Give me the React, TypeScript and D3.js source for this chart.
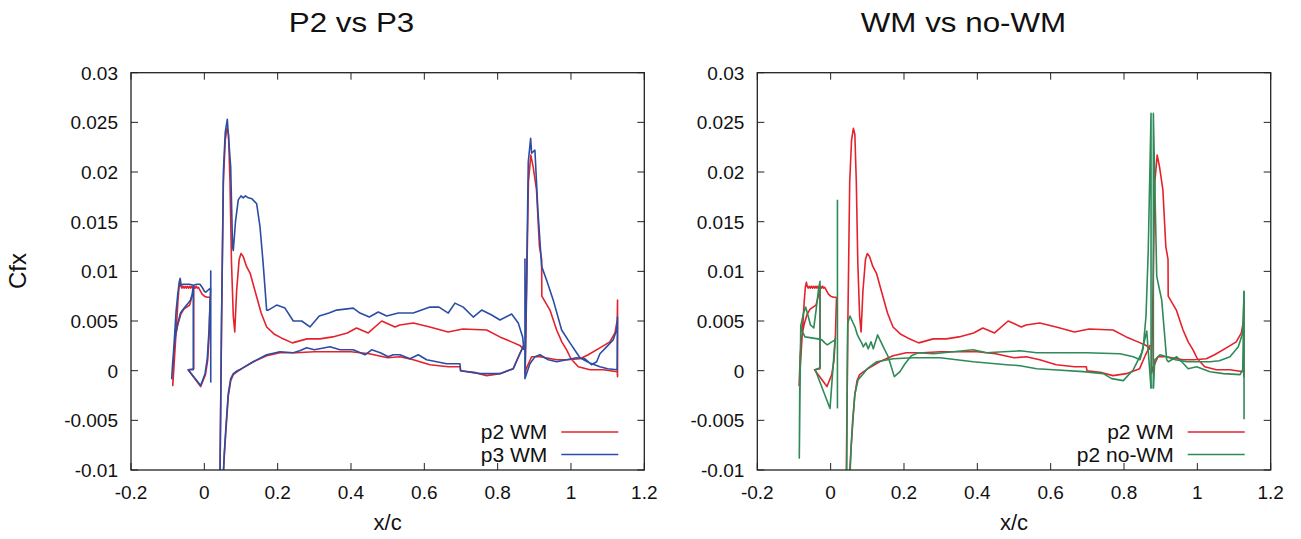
import React from 'react';
import * as d3 from 'd3';

type Pt = [number, number];

// ---------- axis ticks ----------
const xTicks = [-0.2, 0, 0.2, 0.4, 0.6, 0.8, 1, 1.2];
const xTickLabels = ['-0.2', '0', '0.2', '0.4', '0.6', '0.8', '1', '1.2'];
const yTicks = [-0.01, -0.005, 0, 0.005, 0.01, 0.015, 0.02, 0.025, 0.03];
const yTickLabels = ['-0.01', '-0.005', '0', '0.005', '0.01', '0.015', '0.02', '0.025', '0.03'];

// ---------- p2 WM (red) ----------
const p2SlatWM: Pt[] = [
  [0.016, 0.0074], [0.008, 0.0074], [0.0, 0.0075], [-0.006, 0.0077], [-0.012, 0.0081], [-0.016, 0.0084],
  [-0.019, 0.0083], [-0.022, 0.0085], [-0.025, 0.0083], [-0.028, 0.0085], [-0.031, 0.0083], [-0.034, 0.0085],
  [-0.037, 0.0083], [-0.040, 0.0085], [-0.043, 0.0083], [-0.046, 0.0085], [-0.049, 0.0083], [-0.052, 0.0085],
  [-0.055, 0.0083], [-0.058, 0.0085], [-0.061, 0.0083], [-0.064, 0.0085], [-0.066, 0.0089], [-0.069, 0.0084],
  [-0.072, 0.007], [-0.076, 0.0045], [-0.081, 0.0015], [-0.086, -0.0015], [-0.083, 0.0015], [-0.078, 0.0036],
  [-0.072, 0.0047], [-0.064, 0.0057], [-0.056, 0.0062], [-0.048, 0.0064], [-0.04, 0.0066], [-0.035, 0.0073],
  [-0.031, 0.0079], [-0.029, 0.0085], [-0.029, 0.0002], [-0.044, 0.0001], [-0.01, -0.0016], [0.003, -0.0004],
  [0.009, 0.001], [0.013, 0.0035], [0.016, 0.0074],
];
const p2MainUpperWM: Pt[] = [
  [0.0427, -0.0105], [0.047, 0.005], [0.052, 0.019], [0.057, 0.0232], [0.062, 0.0244], [0.066, 0.0238],
  [0.070, 0.019], [0.074, 0.011], [0.079, 0.0055], [0.083, 0.0039], [0.088, 0.008], [0.095, 0.0112],
  [0.1, 0.0118], [0.106, 0.0115], [0.115, 0.0105], [0.125, 0.0098], [0.14, 0.0078], [0.155, 0.0058],
  [0.17, 0.0044], [0.19, 0.0037], [0.21, 0.0033], [0.24, 0.0028], [0.28, 0.0032], [0.315, 0.0032],
  [0.35, 0.0034], [0.39, 0.0038], [0.415, 0.0043], [0.447, 0.0038], [0.484, 0.005], [0.52, 0.0044],
  [0.533, 0.0046], [0.57, 0.0048], [0.615, 0.0044], [0.665, 0.0039], [0.705, 0.0042], [0.77, 0.0041],
  [0.806, 0.0034], [0.838, 0.0029], [0.862, 0.0025], [0.872, 0.0021],
];
const p2MainLowerWM: Pt[] = [
  [0.0517, -0.0105], [0.055, -0.0082], [0.059, -0.006], [0.0653, -0.0026], [0.072, -0.001], [0.079, -0.0004],
  [0.09, -0.0001], [0.1019, 0.0002], [0.1335, 0.0009], [0.17, 0.0015], [0.2063, 0.0018], [0.25, 0.0018],
  [0.3, 0.0019], [0.35, 0.0019], [0.4, 0.0019], [0.45, 0.0017], [0.5, 0.0013], [0.5336, 0.0014],
  [0.57, 0.0011], [0.6154, 0.0006], [0.6653, 0.0004], [0.6972, 0.0004], [0.699, 0.0], [0.74, -0.0002],
  [0.77, -0.0005], [0.8063, -0.0003], [0.8426, 0.0002], [0.86, 0.0017], [0.872, 0.0026],
];
const p2FlapWM: Pt[] = [
  [0.875, -0.0003], [0.879, 0.008], [0.884, 0.019], [0.8905, 0.0217], [0.897, 0.0205], [0.906, 0.0182],
  [0.914, 0.0125], [0.92, 0.0112], [0.9205, 0.0075], [0.9427, 0.0061], [0.9609, 0.0041], [0.975, 0.0029],
  [0.9882, 0.0021], [1.0, 0.0012], [1.02, 0.0004], [1.0518, 0.0001], [1.088, 0.0001], [1.1262, -0.0001],
  [1.127, -0.0006], [1.127, 0.0071], [1.1262, 0.0051], [1.12, 0.0038], [1.106, 0.0029], [1.079, 0.0023],
  [1.047, 0.0016], [1.0245, 0.0012], [0.99, 0.0011], [0.961, 0.0011], [0.9154, 0.0014], [0.8926, 0.0014],
  [0.878, 0.0002], [0.875, -0.0003],
];

// ---------- p3 WM (blue) ----------
const p3SlatWM: Pt[] = [
  [0.017, 0.0083], [0.01, 0.0081], [0.004, 0.0079], [0.0, 0.008], [-0.006, 0.0084], [-0.012, 0.0087],
  [-0.02, 0.0087], [-0.03, 0.0086], [-0.04, 0.0087], [-0.05, 0.0087], [-0.058, 0.0087], [-0.063, 0.0086],
  [-0.066, 0.0093], [-0.069, 0.0088], [-0.073, 0.0075], [-0.077, 0.006], [-0.082, 0.003], [-0.089, -0.0008],
  [-0.086, 0.001], [-0.081, 0.003], [-0.074, 0.0045], [-0.065, 0.0058], [-0.055, 0.0063], [-0.046, 0.0067],
  [-0.038, 0.0071], [-0.033, 0.0077], [-0.03, 0.0086], [-0.03, 0.0001], [-0.044, 0.0001], [-0.01, -0.0015],
  [0.002, -0.0003], [0.008, 0.0012], [0.013, 0.0042], [0.017, 0.0083],
];
const p3SlatTE: Pt[] = [[0.0175, 0.0101], [0.0175, -0.0012]];
const p3MainUpperWM: Pt[] = [
  [0.0427, -0.0105], [0.047, 0.005], [0.052, 0.02], [0.057, 0.024], [0.0627, 0.0253], [0.066, 0.0235],
  [0.0719, 0.0205], [0.077, 0.0125], [0.079, 0.0121], [0.085, 0.015], [0.0926, 0.0172], [0.1, 0.0176],
  [0.106, 0.0174], [0.112, 0.0176], [0.12, 0.0174], [0.13, 0.0173], [0.1428, 0.0168], [0.1518, 0.0145],
  [0.16, 0.011], [0.17, 0.0061], [0.1744, 0.0061], [0.1973, 0.0066], [0.22, 0.0063], [0.2426, 0.005],
  [0.2655, 0.005], [0.2881, 0.0044], [0.3135, 0.0055], [0.34, 0.0058], [0.361, 0.0061], [0.4062, 0.0063],
  [0.4245, 0.0058], [0.4499, 0.0054], [0.4744, 0.0059], [0.4973, 0.0055], [0.529, 0.0058], [0.5698, 0.0058],
  [0.6154, 0.0064], [0.64, 0.0064], [0.6653, 0.0058], [0.6836, 0.0068], [0.7062, 0.0064], [0.7335, 0.0054],
  [0.7564, 0.0061], [0.7837, 0.0056], [0.8063, 0.0051], [0.8382, 0.0057], [0.8562, 0.0048], [0.8682, 0.0034],
  [0.8717, 0.0021],
];
const p3MainLowerWM: Pt[] = [
  [0.0517, -0.0105], [0.055, -0.008], [0.059, -0.0056], [0.0653, -0.0023], [0.072, -0.0008], [0.079, -0.0003],
  [0.09, 0.0], [0.1019, 0.0002], [0.1335, 0.0009], [0.17, 0.0016], [0.2063, 0.0019], [0.2426, 0.0018],
  [0.26, 0.002], [0.279, 0.0023], [0.3, 0.0021], [0.3427, 0.0024], [0.37, 0.0021], [0.4062, 0.0021],
  [0.438, 0.0016], [0.4564, 0.0021], [0.48, 0.0018], [0.5016, 0.0014], [0.515, 0.0016], [0.5336, 0.0016],
  [0.5609, 0.0012], [0.5836, 0.0016], [0.6063, 0.0011], [0.661, 0.0007], [0.6972, 0.0007], [0.699, 0.0],
  [0.7517, -0.0003], [0.8063, -0.0003], [0.8426, 0.0002], [0.8608, 0.0017], [0.8717, 0.0026],
];
const p3FlapWM: Pt[] = [
  [0.8745, 0.0113], [0.8745, -0.0008], [0.879, 0.009], [0.8835, 0.021], [0.89, 0.0234], [0.8926, 0.0219],
  [0.9017, 0.0222], [0.91, 0.016], [0.92, 0.0105], [0.9336, 0.0091], [0.9517, 0.0071], [0.9745, 0.0041],
  [0.9972, 0.0028], [1.0245, 0.0013], [1.05, 0.0008], [1.079, 0.0004], [1.1, 0.0002], [1.126, 0.0001],
  [1.127, 0.0054], [1.1245, 0.0041], [1.115, 0.0031], [1.097, 0.0024], [1.079, 0.0017], [1.07, 0.0009],
  [1.056, 0.0006], [1.038, 0.0012], [1.015, 0.0013], [0.988, 0.0011], [0.961, 0.0009], [0.938, 0.0011],
  [0.9154, 0.0016], [0.9017, 0.0014], [0.888, 0.0007], [0.8745, -0.0008],
];

// ---------- p2 no-WM (green) ----------
const p2SlatNoWM: Pt[] = [
  [0.014, 0.0033], [0.0119, 0.0031], [0.003, 0.0029], [-0.009, 0.0026], [-0.016, 0.0028], [-0.024, 0.0031],
  [-0.035, 0.0032], [-0.052, 0.0033], [-0.07, 0.0034], [-0.078, 0.004], [-0.0815, 0.0046], [-0.0855, -0.0088],
  [-0.084, 0.0], [-0.0808, 0.0046], [-0.074, 0.0058], [-0.068, 0.0064], [-0.062, 0.0056], [-0.055, 0.0046],
  [-0.046, 0.0043], [-0.04, 0.006], [-0.033, 0.0082], [-0.029, 0.009], [-0.029, 0.0003], [-0.042, 0.0001],
  [-0.0017, -0.0038], [0.012, 0.0031], [0.014, 0.0033],
];
const p2SlatTENoWM: Pt[] = [[0.0185, 0.0172], [0.0185, -0.0038]];
const p2MainUpperNoWM: Pt[] = [
  [0.0438, -0.0105], [0.0455, 0.0], [0.0465, 0.0048], [0.0528, 0.0055], [0.06, 0.0049], [0.0664, 0.0044],
  [0.073, 0.0036], [0.08, 0.0031], [0.086, 0.0027], [0.089, 0.0024], [0.096, 0.0028], [0.1027, 0.0022],
  [0.11, 0.0029], [0.1163, 0.0022], [0.128, 0.0036], [0.1436, 0.0024], [0.157, 0.0014], [0.1736, -0.0006],
  [0.1891, -0.0001], [0.2028, 0.0007], [0.22, 0.0015], [0.239, 0.0018], [0.28, 0.0017], [0.3345, 0.0019],
  [0.389, 0.0021], [0.4256, 0.0018], [0.471, 0.0019], [0.5164, 0.002], [0.562, 0.0018], [0.62, 0.0018],
  [0.698, 0.0018], [0.789, 0.0017], [0.8254, 0.0014], [0.8436, 0.0011], [0.852, 0.0022], [0.86, 0.0055],
  [0.866, 0.012], [0.8737, 0.0259], [0.8737, -0.0018],
];
const p2MainLowerNoWM: Pt[] = [
  [0.0528, -0.0105], [0.056, -0.0075], [0.06, -0.005], [0.0664, -0.0023], [0.075, -0.0009], [0.089, -0.0003],
  [0.1, 0.0002], [0.1256, 0.0009], [0.171, 0.0012], [0.2254, 0.0013], [0.298, 0.0013], [0.389, 0.0009],
  [0.48, 0.0006], [0.5164, 0.0005], [0.562, 0.0002], [0.6072, 0.0001], [0.689, -0.0001], [0.7436, -0.0003],
  [0.7664, -0.0008], [0.798, -0.001], [0.8254, 0.0001], [0.848, 0.0018], [0.862, 0.004], [0.8737, -0.0018],
];
const p2FlapNoWM: Pt[] = [
  [0.88, -0.0018], [0.88, 0.0259], [0.8892, 0.0095], [0.9028, 0.0071], [0.9164, 0.0011], [0.9209, 0.0009],
  [0.9437, 0.0014], [0.96, 0.0008], [0.975, 0.0002], [0.998, 0.0004], [1.0345, -0.0001], [1.071, -0.0003],
  [1.1164, -0.0004], [1.1237, 0.0001], [1.1273, 0.008], [1.1273, -0.0049],
];
const p2FlapLowerNoWM: Pt[] = [
  [0.88, -0.0018], [0.884, 0.0011], [0.898, 0.0016], [0.916, 0.0014], [0.94, 0.0011], [0.971, 0.0009],
  [1.0345, 0.0009], [1.06, 0.001], [1.089, 0.0014], [1.1117, 0.0024], [1.1237, 0.0038], [1.1273, 0.008],
];

const RED = '#e4222c';
const BLUE = '#2b4da3';
const GREEN = '#2e8b58';

const FONT = "'Liberation Sans', Arial, Helvetica, sans-serif";

type Series = { color: string; parts: Pt[][] };
type Panel = {
  id: string;
  title: string;
  titleX: number;
  left: number;
  right: number;
  series: Series[];
  legend: { label: string; color: string }[];
};

const redParts = [p2SlatWM, p2MainUpperWM, p2MainLowerWM, p2FlapWM];

const panels: Panel[] = [
  {
    id: 'a',
    title: 'P2 vs P3',
    titleX: 351.5,
    left: 131,
    right: 644.3,
    series: [
      { color: RED, parts: redParts },
      { color: BLUE, parts: [p3SlatWM, p3SlatTE, p3MainUpperWM, p3MainLowerWM, p3FlapWM] },
    ],
    legend: [
      { label: 'p2 WM', color: RED },
      { label: 'p3 WM', color: BLUE },
    ],
  },
  {
    id: 'b',
    title: 'WM vs no-WM',
    titleX: 963.5,
    left: 757.3,
    right: 1270.7,
    series: [
      { color: RED, parts: redParts },
      { color: GREEN, parts: [p2SlatNoWM, p2SlatTENoWM, p2MainUpperNoWM, p2MainLowerNoWM, p2FlapNoWM, p2FlapLowerNoWM] },
    ],
    legend: [
      { label: 'p2 WM', color: RED },
      { label: 'p2 no-WM', color: GREEN },
    ],
  },
];

const TOP = 72.7;
const BOTTOM = 470;
const TICK = 7;
const FRAME = '#222';

function PanelView({ p }: { p: Panel }) {
  const x = d3.scaleLinear().domain([-0.2, 1.2]).range([p.left, p.right]);
  const y = d3.scaleLinear().domain([-0.01, 0.03]).range([BOTTOM, TOP]);
  const line = d3
    .line<Pt>()
    .x((d) => x(d[0]))
    .y((d) => y(d[1]));
  const clipId = `clip-${p.id}`;
  const cx = (p.left + p.right) / 2;
  return (
    <g>
      <defs>
        <clipPath id={clipId}>
          <rect x={p.left} y={TOP} width={p.right - p.left} height={BOTTOM - TOP} />
        </clipPath>
      </defs>
      <text
        transform={`translate(${p.titleX},32) scale(1.12,1)`}
        textAnchor="middle"
        fontSize={28}
        fontFamily={FONT}
        fill="#111"
      >
        {p.title}
      </text>
      {/* ticks */}
      {xTicks.map((t, i) => (
        <g key={`x${i}`}>
          <line x1={x(t)} x2={x(t)} y1={BOTTOM} y2={BOTTOM - TICK} stroke={FRAME} strokeWidth={1} />
          <line x1={x(t)} x2={x(t)} y1={TOP} y2={TOP + TICK} stroke={FRAME} strokeWidth={1} />
          <text x={x(t)} y={499} textAnchor="middle" fontSize={19} fontFamily={FONT} fill="#111">
            {xTickLabels[i]}
          </text>
        </g>
      ))}
      {yTicks.map((t, i) => (
        <g key={`y${i}`}>
          <line x1={p.left} x2={p.left + TICK} y1={y(t)} y2={y(t)} stroke={FRAME} strokeWidth={1} />
          <line x1={p.right} x2={p.right - TICK} y1={y(t)} y2={y(t)} stroke={FRAME} strokeWidth={1} />
          <text x={p.left - 13} y={y(t) + 7} textAnchor="end" fontSize={19} fontFamily={FONT} fill="#111">
            {yTickLabels[i]}
          </text>
        </g>
      ))}
      {/* data */}
      <g clipPath={`url(#${clipId})`}>
        {p.series.map((s, si) =>
          s.parts.map((part, pi) => (
            <path
              key={`${si}-${pi}`}
              d={line(part) || ''}
              fill="none"
              stroke={s.color}
              strokeWidth={1.6}
              strokeLinejoin="round"
            />
          ))
        )}
      </g>
      <rect
        x={p.left}
        y={TOP}
        width={p.right - p.left}
        height={BOTTOM - TOP}
        fill="none"
        stroke={FRAME}
        strokeWidth={1.3}
      />
      {/* legend */}
      {p.legend.map((l, i) => {
        const ly = 432 + i * 22.5;
        return (
          <g key={`l${i}`}>
            <text x={p.right - 97} y={ly + 7} textAnchor="end" fontSize={21} fontFamily={FONT} fill="#111">
              {l.label}
            </text>
            <line x1={p.right - 83} x2={p.right - 26} y1={ly} y2={ly} stroke={l.color} strokeWidth={1.6} />
          </g>
        );
      })}
      <text x={cx} y={530} textAnchor="middle" fontSize={22} fontFamily={FONT} fill="#111">
        x/c
      </text>
    </g>
  );
}

export default function App() {
  return (
    <svg
      width={1301}
      height={539}
      viewBox="0 0 1301 539"
      style={{ position: 'absolute', left: 0, top: 0, background: '#fff' }}
    >
      <rect x={0} y={0} width={1301} height={539} fill="#fff" />
      <text
        transform="translate(25.5,271) rotate(-90)"
        textAnchor="middle"
        fontSize={24}
        fontFamily={FONT}
        fill="#111"
      >
        Cfx
      </text>
      {panels.map((p) => (
        <PanelView key={p.id} p={p} />
      ))}
    </svg>
  );
}
